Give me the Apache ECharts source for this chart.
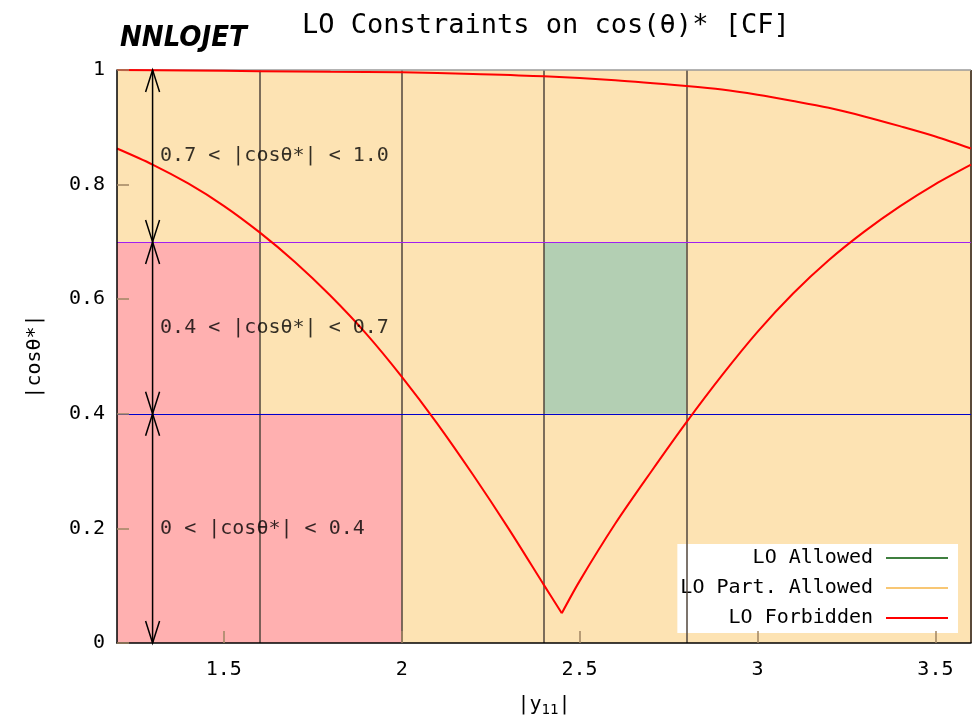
<!DOCTYPE html>
<html>
<head>
<meta charset="utf-8">
<script src="https://cdn.jsdelivr.net/npm/echarts@6/dist/echarts.min.js"></script>
<style>
  html, body { margin: 0; background: #fff; }
  #chart { width: 972px; height: 722px; }
</style>
</head>
<body>
<div id="chart"></div>
<script>
  const MONO = '"DejaVu Sans Mono", "Liberation Mono", monospace';

  // axis ticks and guide lines
  const xTicks = [1.5, 2, 2.5, 3, 3.5];
  const gridX = [1.6, 2.0, 2.4, 2.8];
  const gridY = [0.4, 0.7];

  // regions [x0, x1, y0, y1]
  const partAllowedBoxes = [[1.2, 3.6, 0, 1]];
  const forbiddenBoxes = [[1.2, 1.6, 0.4, 0.7], [1.2, 2.0, 0, 0.4]];
  const allowedBoxes = [[2.4, 2.8, 0.4, 0.7]];

  // upper boundary curve
  const upperX = [1.2, 1.4, 1.6, 1.8, 2.0, 2.2, 2.4, 2.6, 2.8, 2.9, 3.0, 3.1, 3.2, 3.3, 3.4, 3.5, 3.6];
  const upperY = [1.0, 0.999, 0.998, 0.997, 0.996, 0.993, 0.989, 0.982, 0.972, 0.966, 0.957, 0.946, 0.934, 0.919, 0.902, 0.884, 0.863];

  // V shaped lower boundary: falling and rising branches
  const fallX = [1.2, 1.3, 1.4, 1.5, 1.6, 1.7, 1.8, 1.9, 2.0, 2.1, 2.2, 2.3, 2.4, 2.45];
  const fallY = [0.863, 0.835, 0.802, 0.763, 0.717, 0.665, 0.606, 0.540, 0.465, 0.383, 0.294, 0.200, 0.101, 0.052];
  const riseX = [2.45, 2.5, 2.6, 2.7, 2.8, 2.9, 3.0, 3.1, 3.2, 3.3, 3.4, 3.5, 3.6];
  const riseY = [0.052, 0.108, 0.208, 0.298, 0.385, 0.467, 0.543, 0.610, 0.668, 0.718, 0.762, 0.801, 0.835];

  // |cos| bands with arrows
  const arrowX = 1.3;
  const bandEdges = [0, 0.4, 0.7, 1.0];
  const bandLabels = ['0 < |cosθ*| < 0.4', '0.4 < |cosθ*| < 0.7', '0.7 < |cosθ*| < 1.0'];
  const bandLabelY = [0.2, 0.55, 0.85];

  const chart = echarts.init(document.getElementById('chart'));

  function renderBox(params, api) {
    const p0 = api.coord([api.value(0), api.value(3)]);
    const p1 = api.coord([api.value(1), api.value(2)]);
    return {
      type: 'rect',
      shape: { x: p0[0], y: p0[1], width: p1[0] - p0[0], height: p1[1] - p0[1] },
      style: { fill: api.visual('color') },
    };
  }

  function renderArrow(params, api) {
    const a = api.coord([api.value(0), api.value(1)]);
    const b = api.coord([api.value(0), api.value(2)]);
    const head = 22;
    const half = 7;
    const st = { stroke: '#000', fill: null, lineWidth: 1.5 };
    return {
      type: 'group',
      children: [
        { type: 'line', shape: { x1: a[0], y1: a[1], x2: b[0], y2: b[1] }, style: st },
        { type: 'polyline', shape: { points: [[a[0] - half, a[1] - head], a, [a[0] + half, a[1] - head]] }, style: st },
        { type: 'polyline', shape: { points: [[b[0] - half, b[1] + head], b, [b[0] + half, b[1] + head]] }, style: st },
      ],
    };
  }

  function curveSeries(name, xs, ys) {
    return {
      type: 'line',
      name: name,
      z: 6,
      showSymbol: false,
      smooth: 0.3,
      lineStyle: { color: '#ff0000', width: 2 },
      data: xs.map((x, i) => [x, ys[i]]),
    };
  }

  const arrowSpans = bandLabels.map((_, i) => [arrowX, bandEdges[i], bandEdges[i + 1]]);
  const labelData = bandLabels.map((text, i) => ({ name: text, value: [arrowX, bandLabelY[i]] }));

  const boxEncode = { x: [0, 1], y: [2, 3] };

  const option = {
    animation: false,
    backgroundColor: '#fff',
    title: [
      {
        text: 'LO Constraints on cos(θ)* [CF]',
        left: 302,
        top: 12,
        padding: 0,
        textStyle: { fontFamily: MONO, fontSize: 27, fontWeight: 'normal', color: '#000' },
      },
      {
        text: 'NNLOJET',
        left: 120,
        top: 24,
        padding: 0,
        textStyle: {
          fontFamily: '"DejaVu Sans Condensed", "Liberation Sans Narrow", Roboto, sans-serif',
          fontStyle: 'italic',
          fontWeight: 'bold',
          fontSize: 29,
          color: '#000',
        },
      },
    ],
    grid: {
      left: 117,
      right: 1,
      top: 70,
      bottom: 79,
      outerBoundsMode: 'none',
    },
    legend: {
      orient: 'vertical',
      right: 14,
      top: 544,
      align: 'right',
      backgroundColor: '#fff',
      padding: [2, 10, 3, 3],
      itemGap: 6,
      itemWidth: 62,
      itemHeight: 2,
      selectedMode: false,
      textStyle: { fontFamily: MONO, fontSize: 20, color: '#000', lineHeight: 24, padding: [0, 8, 0, 0] },
      data: [
        { name: 'LO Allowed', icon: 'rect', itemStyle: { color: '#3f7f3f' } },
        { name: 'LO Part. Allowed', icon: 'rect', itemStyle: { color: '#f8c774' } },
        { name: 'LO Forbidden', icon: 'rect', itemStyle: { color: '#ff0000' } },
      ],
    },
    xAxis: {
      type: 'value',
      min: 1.2,
      max: 3.6,
      z: 8,
      name: '|y{sub|11}|',
      nameLocation: 'middle',
      nameGap: 50,
      nameTextStyle: {
        fontFamily: MONO,
        fontSize: 20,
        color: '#000',
        rich: { sub: { fontFamily: MONO, fontSize: 14, padding: [10, 0, 0, 0] } },
      },
      axisLine: { lineStyle: { color: '#000', width: 1.5 } },
      axisTick: { inside: true, length: 12, customValues: xTicks, lineStyle: { color: '#a08563', width: 1.5 } },
      axisLabel: { customValues: xTicks, margin: 17, fontFamily: MONO, fontSize: 20, color: '#000' },
      splitLine: { show: false },
    },
    yAxis: {
      type: 'value',
      min: 0,
      max: 1,
      interval: 0.2,
      z: 8,
      name: '|cosθ*|',
      nameLocation: 'middle',
      nameGap: 72,
      nameTextStyle: { fontFamily: MONO, fontSize: 20, color: '#000' },
      axisLine: { show: true, lineStyle: { color: '#000', width: 1.5 } },
      axisTick: { inside: true, length: 12, lineStyle: { color: '#a08563', width: 1.5 } },
      axisLabel: { margin: 12, fontFamily: MONO, fontSize: 20, color: '#000' },
      splitLine: { show: false },
    },
    series: [
      {
        type: 'custom',
        name: 'LO Part. Allowed',
        renderItem: renderBox,
        encode: boxEncode,
        itemStyle: { color: '#fde3b3' },
        data: partAllowedBoxes,
        silent: true,
        markLine: {
          silent: true,
          symbol: 'none',
          label: { show: false },
          data: [
            ...gridX.map((v) => ({ xAxis: v, lineStyle: { color: '#50463c', width: 1.5, type: 'solid' } })),
            { xAxis: 3.6, lineStyle: { color: '#5a4a3a', width: 2, type: 'solid' } },
            { yAxis: 1, lineStyle: { color: '#9a9a9a', width: 1.5, type: 'solid' } },
            { yAxis: gridY[0], lineStyle: { color: '#0000cc', width: 1, type: 'solid' } },
            { yAxis: gridY[1], lineStyle: { color: '#a020f0', width: 1.2, type: 'solid' } },
          ],
        },
      },
      {
        type: 'custom',
        name: 'LO Forbidden',
        renderItem: renderBox,
        encode: boxEncode,
        itemStyle: { color: '#ffb0b0' },
        data: forbiddenBoxes,
        silent: true,
      },
      {
        type: 'custom',
        name: 'LO Allowed',
        renderItem: renderBox,
        encode: boxEncode,
        itemStyle: { color: '#b3cfb3' },
        data: allowedBoxes,
        silent: true,
      },
      curveSeries('upper bound', upperX, upperY),
      curveSeries('lower bound falling', fallX, fallY),
      curveSeries('lower bound rising', riseX, riseY),
      {
        type: 'custom',
        name: 'arrows',
        z: 7,
        renderItem: renderArrow,
        encode: { x: 0, y: [1, 2] },
        data: arrowSpans,
        silent: true,
      },
      {
        type: 'scatter',
        name: 'band labels',
        z: 7,
        symbolSize: 1,
        itemStyle: { color: 'rgba(0,0,0,0)' },
        label: {
          show: true,
          position: 'right',
          distance: 7,
          formatter: '{b}',
          fontFamily: MONO,
          fontSize: 20,
          color: '#000',
        },
        data: labelData,
        silent: true,
      },
    ],
  };

  chart.setOption(option);
</script>
</body>
</html>
